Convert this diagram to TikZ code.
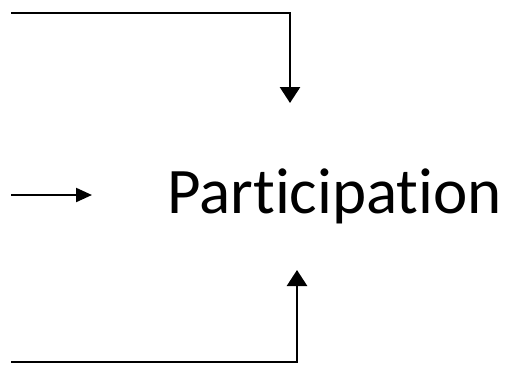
\documentclass[tikz,border=0pt]{standalone}
\usepackage{fontspec}
\setmainfont[Ligatures=NoCommon]{Carlito}
\usetikzlibrary{arrows.meta}
\tikzstyle{arrow} = [line width=2.8pt,-{Triangle[length=16pt,width=20pt]}]
\tikzstyle{smallarrow} = [line width=2.2pt,-{Triangle[length=16pt,width=14pt]}]

\begin{document}
\begin{tikzpicture}[x=1pt,y=-1pt]
\useasboundingbox (0,0) rectangle (506,365);
\node (part) [anchor=base west, inner sep=0pt, font=\fontsize{65}{70}\selectfont] at (167,213) {Participation};
\coordinate (top) at (11,13);
\coordinate (topend) at (290,103);
\coordinate (mid) at (11,195);
\coordinate (midend) at (92,195);
\coordinate (bot) at (11,362);
\coordinate (botend) at (297,270);

\draw [arrow] (top) -| (topend);
\draw [smallarrow] (mid) -- (midend);
\draw [arrow] (bot) -| (botend);
\end{tikzpicture}
\end{document}
